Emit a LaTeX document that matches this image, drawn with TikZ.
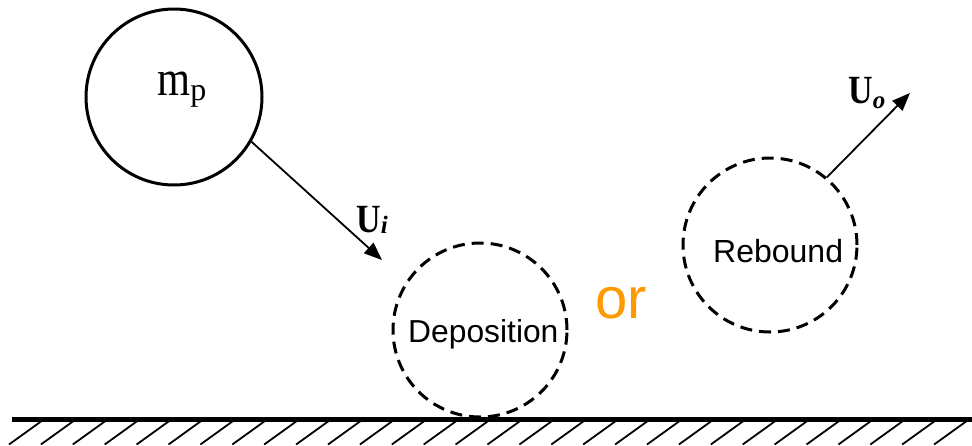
\documentclass[tikz,border=0pt]{standalone}
\usepackage{fontspec}
\setmainfont{Liberation Serif}
\newfontfamily\arial{Liberation Sans}
\usetikzlibrary{arrows.meta}
\definecolor{orng}{HTML}{FF9900}
\begin{document}
\begin{tikzpicture}[x=1pt,y=-1pt,
  particle/.style={circle,draw,line width=3pt,minimum size=176pt,inner sep=0pt},
  ghost/.style={particle,minimum size=174pt,dash pattern=on 12pt off 7pt},
  vel/.style={line width=1.8pt,-{Triangle[length=18pt,width=14pt]}},
  txt/.style={inner sep=0pt,anchor=base west},
  hatch/.style={line width=1.8pt}]
\useasboundingbox (0,0) rectangle (972,445);
% particles
\node[particle] (mp) at (174,97) {};
\node[ghost] (dep) at (480,330) {};
\node[ghost] (reb) at (770,245) {};
% texts
\node[txt] (mplab) at (157,95) {\scalebox{0.85}[1]{\fontsize{50}{50}\selectfont m}\raisebox{-5pt}{\fontsize{32}{32}\selectfont p}};
\node[txt] (deplab) at (408,342) {\arial\fontsize{31.8}{32}\selectfont Deposition};
\node[txt] (reblab) at (713,262) {\arial\fontsize{32}{32}\selectfont Rebound};
\node[txt,text=orng] (orlab) at (595,318) {\arial\fontsize{58}{58}\selectfont or};
\node[txt] (uilab) at (356,232) {\scalebox{0.85}[1]{\fontsize{40}{40}\selectfont\bfseries U}\raisebox{-1pt}{\fontsize{25}{25}\selectfont\bfseries\itshape i}};
\node[txt] (uolab) at (848,103) {\scalebox{0.85}[1]{\fontsize{40}{40}\selectfont\bfseries U}\raisebox{-5pt}{\fontsize{25}{25}\selectfont\bfseries\itshape o}};
% velocities
\coordinate (uiend) at (382,260);
\coordinate (uoend) at (910,93);
\draw[vel] (mp.-30) -- (uiend);
\draw[vel] (reb.50) -- (uoend);
% ground
\begin{scope}
\clip (0,0) rectangle (972,445);
\foreach \i in {0,...,29} \draw[hatch] ({43+31.9*\i},420) -- ++(-34,24.5);
\end{scope}
\draw[line width=4.5pt] (12,419.5) -- (972,419.5);
\end{tikzpicture}
\end{document}
